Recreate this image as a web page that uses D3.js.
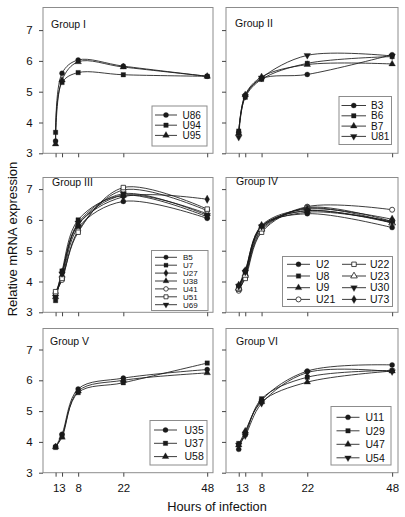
<!DOCTYPE html>
<html><head><meta charset="utf-8">
<script src="https://cdn.jsdelivr.net/npm/d3@7"></script>
<style>body{margin:0;background:#fff} svg{display:block} text{font-family:"Liberation Sans",Arial,sans-serif;fill:#111}</style>
</head><body>
<svg id="c" width="405" height="517"></svg>
<script>
// ---------- data ----------
const hours = [1, 3, 8, 22, 48];
const hourTickLabels = ["1", "3", "8", "22", "48"];
const yTicks = [3, 4, 5, 6, 7];
const groupNames = ["Group I", "Group II", "Group III", "Group IV", "Group V", "Group VI"];

const g1Strains = ["U86", "U94", "U95"];
const g1Values = [
  [3.40, 5.60, 6.03, 5.83, 5.50],
  [3.68, 5.30, 5.62, 5.55, 5.50],
  [3.30, 5.38, 5.97, 5.80, 5.50]
];
const g2Strains = ["B3", "B6", "B7", "U81"];
const g2Values = [
  [3.68, 4.88, 5.42, 5.56, 6.20],
  [3.72, 4.82, 5.40, 5.92, 6.14],
  [3.65, 4.90, 5.48, 5.88, 5.90],
  [3.52, 4.85, 5.45, 6.18, 6.16]
];
const g3Strains = ["B5", "U7", "U27", "U38", "U41", "U51", "U69"];
const g3Values = [
  [3.60, 4.10, 5.75, 6.60, 6.05],
  [3.38, 4.34, 6.00, 6.80, 6.10],
  [3.55, 4.30, 5.85, 6.75, 6.67],
  [3.50, 4.20, 5.85, 6.80, 6.20],
  [3.62, 4.05, 5.65, 6.97, 6.30],
  [3.67, 4.10, 5.60, 7.05, 6.35],
  [3.50, 4.25, 5.90, 6.85, 6.15]
];
const g4Strains = ["U2", "U8", "U9", "U21", "U22", "U23", "U30", "U73"];
const g4Values = [
  [3.80, 4.35, 5.80, 6.20, 5.75],
  [3.85, 4.30, 5.75, 6.25, 5.95],
  [3.80, 4.25, 5.78, 6.30, 5.90],
  [3.70, 4.15, 5.65, 6.43, 6.33],
  [3.75, 4.10, 5.60, 6.40, 5.95],
  [3.78, 4.20, 5.70, 6.38, 5.90],
  [3.85, 4.30, 5.78, 6.30, 5.92],
  [3.88, 4.35, 5.82, 6.35, 6.02]
];
const g5Strains = ["U35", "U37", "U58"];
const g5Values = [
  [3.85, 4.25, 5.72, 6.07, 6.35],
  [3.82, 4.20, 5.60, 5.92, 6.56],
  [3.84, 4.15, 5.65, 6.00, 6.24]
];
const g6Strains = ["U11", "U29", "U47", "U54"];
const g6Values = [
  [3.76, 4.30, 5.35, 6.30, 6.50],
  [3.95, 4.25, 5.40, 6.10, 6.32],
  [3.90, 4.35, 5.30, 5.94, 6.30],
  [3.90, 4.20, 5.25, 6.25, 6.28]
];

// ---------- styles / layout ----------
const g1Markers = ["circle", "square", "triangle"];
const g2Markers = ["circle", "square", "triangle", "down"];
const g3Markers = ["circle", "square", "diamond", "triangle", "ocircle", "osquare", "down"];
const g4Markers = ["circle", "square", "triangle", "ocircle", "osquare", "otriangle", "down", "diamond"];
const g5Markers = ["circle", "square", "triangle"];
const g6Markers = ["circle", "square", "triangle", "down"];

const cols = [{x0: 43, x1: 213}, {x0: 226, x1: 398}];
const rows = [{top: 7.5, axis: 153.3}, {top: 177.5, axis: 312.3}, {top: 328.5, axis: 472.7}];
const unitPx = 30.8;

const panels = [
  {strains: g1Strains, values: g1Values, markers: g1Markers, r: 0, c: 0, label: [51, 28],
   legend: {box: [152, 106, 207, 146], y0: 115, dy: 10.2, fs: 10, cols: [{lx0: 155, lx1: 177, tx: 182.5}], perCol: 3}},
  {strains: g2Strains, values: g2Values, markers: g2Markers, r: 0, c: 1, label: [235, 27],
   legend: {box: [339, 96.5, 391.5, 144.5], y0: 105.5, dy: 10.3, fs: 10, cols: [{lx0: 341.5, lx1: 366, tx: 371}], perCol: 4}},
  {strains: g3Strains, values: g3Values, markers: g3Markers, r: 1, c: 0, label: [52, 185.5],
   legend: {box: [151.5, 250.5, 208, 310.5], y0: 257.3, dy: 7.9, fs: 8, cols: [{lx0: 155, lx1: 177, tx: 183}], perCol: 7}},
  {strains: g4Strains, values: g4Values, markers: g4Markers, r: 1, c: 1, label: [236, 184.5],
   legend: {box: [282.5, 256.5, 392.5, 306.5], y0: 264.3, dy: 11.7, fs: 10.5, cols: [{lx0: 287, lx1: 310, tx: 316}, {lx0: 342, lx1: 366, tx: 370}], perCol: 4}},
  {strains: g5Strains, values: g5Values, markers: g5Markers, r: 2, c: 0, label: [50, 345],
   legend: {box: [150, 420.5, 207, 465], y0: 430, dy: 13.3, fs: 10.5, cols: [{lx0: 154, lx1: 177, tx: 184.5}], perCol: 3}},
  {strains: g6Strains, values: g6Values, markers: g6Markers, r: 2, c: 1, label: [236, 345],
   legend: {box: [331, 406.5, 391, 465], y0: 417.3, dy: 13.5, fs: 10.5, cols: [{lx0: 336.5, lx1: 359.5, tx: 365.5}], perCol: 4}}
];

const svg = d3.select("#c");
const ink = "#1a1a1a";

function drawMarker(g, type, x, y, scale) {
  const open = type.startsWith("o");
  const base = open ? type.slice(1) : type;
  let sym, size, rot = 0;
  if (base === "circle") { sym = d3.symbolCircle; size = 20; }
  else if (base === "square") { sym = d3.symbolSquare; size = 20; }
  else if (base === "triangle") { sym = d3.symbolTriangle; size = 19; }
  else if (base === "down") { sym = d3.symbolTriangle; size = 19; rot = 180; }
  else if (base === "diamond") { sym = d3.symbolDiamond; size = 20; }
  g.append("path")
    .attr("d", d3.symbol().type(sym).size(size * (scale || 1))())
    .attr("transform", `translate(${x},${y}) rotate(${rot})`)
    .attr("fill", open ? "#fff" : ink)
    .attr("stroke", ink)
    .attr("stroke-width", open ? 0.8 : 0.3);
}

panels.forEach((p, i) => {
  const col = cols[p.c], row = rows[p.r];
  const x = d3.scaleLinear().domain([-2.9, 49.8]).range([col.x0, col.x1]);
  const y = d3.scaleLinear().domain([3, 7]).range([row.axis, row.axis - 4 * unitPx]);
  const g = svg.append("g");

  // frame
  g.append("rect")
    .attr("x", col.x0).attr("y", row.top)
    .attr("width", col.x1 - col.x0).attr("height", row.axis - row.top)
    .attr("fill", "none").attr("stroke", "#8c8c8c").attr("stroke-width", 1);

  // y axis
  const ya = g.append("g").attr("transform", `translate(${col.x0},0)`)
    .call(d3.axisLeft(y).tickValues(yTicks).tickSize(4).tickSizeOuter(0)
      .tickFormat(p.c === 0 ? d3.format("d") : () => ""));
  ya.select(".domain").remove();
  ya.selectAll("line").attr("stroke", "#444");
  ya.selectAll("text").attr("font-size", 11.5).attr("fill", "#111").attr("font-family", "Liberation Sans, Arial, sans-serif").attr("dx", "-0.3em");

  // x axis
  const xa = g.append("g").attr("transform", `translate(0,${row.axis})`)
    .call(d3.axisBottom(x).tickValues(hours).tickSize(4).tickSizeOuter(0)
      .tickFormat(p.r === 2 ? (d, k) => hourTickLabels[k] : () => ""));
  xa.select(".domain").remove();
  xa.selectAll("line").attr("stroke", "#444");
  xa.selectAll("text").attr("font-size", 11.5).attr("fill", "#111").attr("font-family", "Liberation Sans, Arial, sans-serif").attr("dy", "1.05em");

  // group label
  g.append("text").attr("x", p.label[0]).attr("y", p.label[1])
    .attr("font-size", 10.5).text(groupNames[i]);

  // curves
  const line = d3.line().x((d, k) => x(hours[k])).y(d => y(d)).curve(d3.curveCatmullRom.alpha(0.5));
  p.values.forEach(vals => {
    g.append("path").attr("d", line(vals)).attr("fill", "none")
      .attr("stroke", ink).attr("stroke-width", 0.85);
  });
  p.values.forEach((vals, s) => {
    vals.forEach((v, k) => drawMarker(g, p.markers[s], x(hours[k]), y(v)));
  });

  // legend
  const L = p.legend;
  g.append("rect").attr("x", L.box[0]).attr("y", L.box[1])
    .attr("width", L.box[2] - L.box[0]).attr("height", L.box[3] - L.box[1])
    .attr("fill", "#fff").attr("stroke", "#8c8c8c").attr("stroke-width", 1);
  const mScale = L.dy < 9 ? 0.8 : 1;
  p.strains.forEach((name, s) => {
    const lc = L.cols[Math.floor(s / L.perCol)];
    const ly = L.y0 + (s % L.perCol) * L.dy;
    g.append("line").attr("x1", lc.lx0).attr("x2", lc.lx1).attr("y1", ly).attr("y2", ly)
      .attr("stroke", ink).attr("stroke-width", 0.85);
    drawMarker(g, p.markers[s], (lc.lx0 + lc.lx1) / 2, ly, mScale);
    g.append("text").attr("x", lc.tx).attr("y", ly).attr("dy", "0.36em")
      .attr("font-size", L.fs).text(name);
  });
});

// axis titles
svg.append("text").attr("x", 217).attr("y", 511).attr("text-anchor", "middle")
  .attr("font-size", 12.8).text("Hours of infection");
svg.append("text").attr("transform", "translate(16.5,239) rotate(-90)").attr("text-anchor", "middle")
  .attr("font-size", 13).text("Relative mRNA expression");
</script>
</body></html>
